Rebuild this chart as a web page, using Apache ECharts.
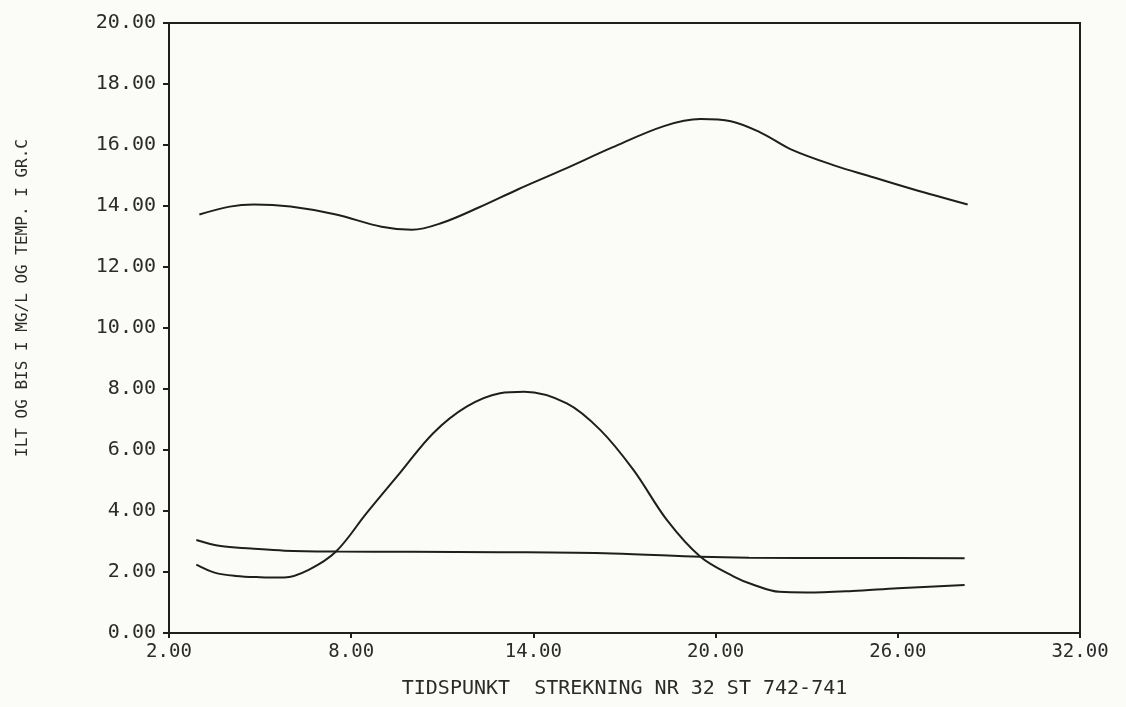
<!DOCTYPE html>
<html>
<head>
<meta charset="utf-8">
<script src="https://cdn.jsdelivr.net/npm/echarts@6/dist/echarts.min.js"></script>
<style>
  html, body { margin: 0; padding: 0; background: #fbfbf8; }
  #chart { width: 1126px; height: 707px; }
</style>
</head>
<body>
<div id="chart"></div>
<script>
// X tick values and axis titles
const xTicks = [2, 8, 14, 20, 26, 32];
const xTitle = 'TIDSPUNKT  STREKNING NR 32 ST 742-741';
const yTitle = 'ILT OG BIS I MG/L OG TEMP. I GR.C';

// Upper curve (temperature)
const tempX = [3.0, 4.0, 4.8, 6.0, 7.5, 9.0, 10.0, 11.0, 12.2, 13.5, 15.0, 16.6, 18.3, 19.5, 20.5, 21.5, 22.5, 24.0, 25.0, 26.5, 28.3];
const tempY = [13.72, 13.98, 14.05, 13.98, 13.72, 13.32, 13.22, 13.45, 13.95, 14.55, 15.2, 15.92, 16.62, 16.85, 16.78, 16.4, 15.85, 15.3, 15.0, 14.55, 14.05];

// Curve with the tall peak
const peakX = [2.9, 3.5, 4.2, 5.0, 5.8, 6.6, 7.5, 8.5, 9.6, 10.7, 11.8, 12.9, 13.7, 15.1, 16.2, 17.3, 18.4, 19.5, 20.6, 21.2, 22.1, 23.0, 24.5, 26.0, 28.2];
const peakY = [2.24, 1.98, 1.87, 1.83, 1.82, 2.07, 2.67, 3.92, 5.24, 6.55, 7.42, 7.86, 7.91, 7.53, 6.66, 5.34, 3.70, 2.50, 1.85, 1.60, 1.35, 1.33, 1.38, 1.47, 1.57];

// Nearly flat curve
const flatX = [2.9, 3.7, 4.7, 5.8, 7.5, 10.0, 12.9, 16.6, 19.5, 21.1, 24.5, 28.2];
const flatY = [3.05, 2.85, 2.77, 2.70, 2.67, 2.66, 2.65, 2.61, 2.50, 2.47, 2.46, 2.45];

function pairs(xs, ys) { return xs.map((x, i) => [x, ys[i]]); }

const ink = '#1e1e1e';
const textInk = '#2b2b2b';
const mono = '"DejaVu Sans Mono", "Liberation Mono", monospace';

const chart = echarts.init(document.getElementById('chart'));
const lineSeries = (data) => ({
  type: 'line',
  data: data,
  smooth: 0.35,
  showSymbol: false,
  symbol: 'none',
  lineStyle: { color: ink, width: 2 },
  itemStyle: { color: ink },
  silent: true
});

chart.setOption({
  backgroundColor: '#fbfbf8',
  animation: false,
  grid: {
    left: 169, right: 46, top: 23, bottom: 74,
    show: true, borderColor: ink, borderWidth: 2, backgroundColor: 'transparent'
  },
  xAxis: {
    type: 'value',
    min: 2, max: 32, interval: 6,
    name: xTitle,
    nameLocation: 'middle',
    nameGap: 46,
    nameTextStyle: { fontFamily: mono, fontSize: 20, color: textInk },
    axisLine: { show: true, lineStyle: { color: ink, width: 2 } },
    axisTick: { show: true, length: 5, lineStyle: { color: ink, width: 2 }, customValues: xTicks },
    axisLabel: {
      customValues: xTicks,
      fontFamily: mono, fontSize: 19, color: textInk, margin: 10,
      formatter: v => Number(v).toFixed(2)
    },
    splitLine: { show: false }
  },
  yAxis: {
    type: 'value',
    min: 0, max: 20, interval: 2,
    name: yTitle,
    nameLocation: 'middle',
    nameGap: 138,
    nameRotate: 90,
    nameTextStyle: { fontFamily: mono, fontSize: 16, color: textInk, padding: [0, 0, 0, 60] },
    axisLine: { show: true, lineStyle: { color: ink, width: 2 } },
    axisTick: { show: true, length: 6, lineStyle: { color: ink, width: 2 } },
    axisLabel: {
      fontFamily: mono, fontSize: 20, color: textInk, margin: 13,
      formatter: v => Number(v).toFixed(2)
    },
    splitLine: { show: false }
  },
  series: [
    lineSeries(pairs(tempX, tempY)),
    lineSeries(pairs(peakX, peakY)),
    lineSeries(pairs(flatX, flatY))
  ]
});
</script>
</body>
</html>
